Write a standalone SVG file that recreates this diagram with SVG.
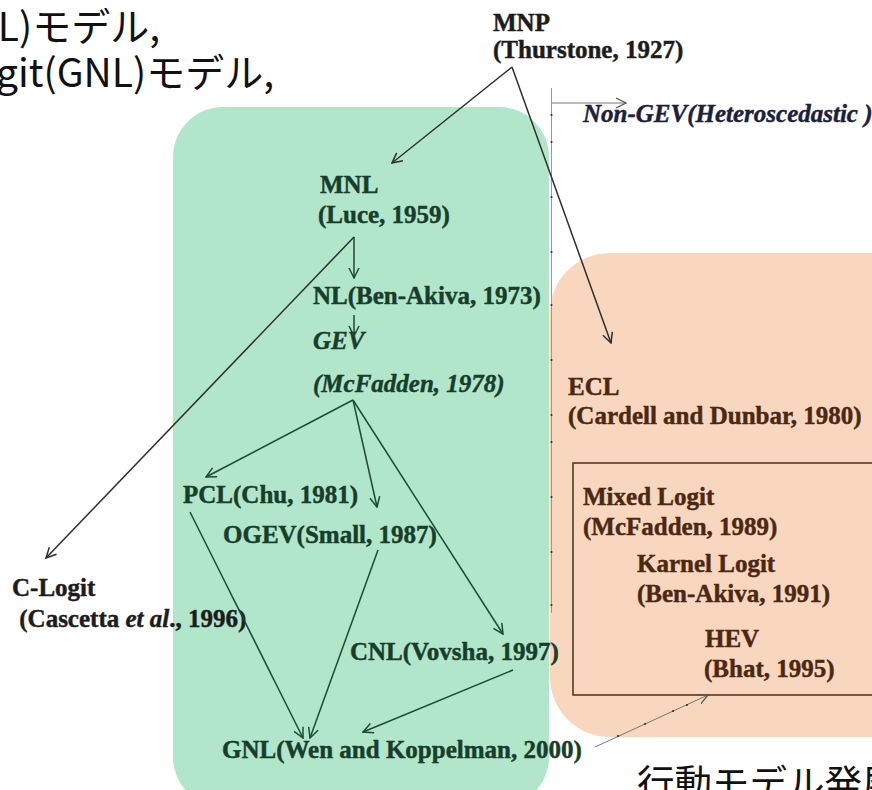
<svg xmlns="http://www.w3.org/2000/svg" width="872" height="790" viewBox="0 0 872 790">
<defs>
<style>
.jp{font-family:"Noto Sans CJK JP","Liberation Sans",sans-serif;font-size:39px;fill:#111}
.jb{font-size:37.5px}
.t{font-family:"Liberation Serif","Times New Roman",serif;font-size:25px;font-weight:bold;stroke-width:0.45px}
.g{fill:#173d2b;stroke:#173d2b}
.o{fill:#4a2812;stroke:#4a2812}
.k{fill:#1c1c1c;stroke:#1c1c1c}
.n{fill:#1b203c;stroke:#1b203c}
.i{font-style:italic}
.ln{fill:none;stroke-width:1.5}
.lg{stroke:#1f4a33}
.lk{stroke:#2e2e2e}
.dot{fill:#333}
</style>
<marker id="ag" viewBox="0 0 12 12" refX="11" refY="6" markerWidth="12" markerHeight="12" markerUnits="userSpaceOnUse" orient="auto"><path d="M1,1 L11,6 L1,11" fill="none" stroke="#1f4a33" stroke-width="1.5"/></marker>
<marker id="ak" viewBox="0 0 12 12" refX="11" refY="6" markerWidth="12" markerHeight="12" markerUnits="userSpaceOnUse" orient="auto"><path d="M1,1 L11,6 L1,11" fill="none" stroke="#2e2e2e" stroke-width="1.5"/></marker>
<marker id="ad" viewBox="0 0 12 12" refX="11" refY="6" markerWidth="12" markerHeight="12" markerUnits="userSpaceOnUse" orient="auto"><path d="M1,1 L11,6 L1,11" fill="none" stroke="#555" stroke-width="1.2"/></marker>
</defs>
<rect width="872" height="790" fill="#ffffff"/>
<g id="region-gev"><rect x="173" y="107" width="376" height="700" rx="50" fill="#b1e6ca"/></g>
<g id="region-nongev"><rect x="550" y="253" width="380" height="484" rx="60" fill="#f8d7be"/></g>
<g id="heading-top">
<text class="jp" x="160" y="41" text-anchor="end">L)モデル,</text>
<text class="jp" x="274" y="87" text-anchor="end">git(GNL)モデル,</text>
</g>
<g id="heading-bottom"><text class="jp jb" x="637" y="797">行動モデル発展</text></g>
<g id="axis">
<line x1="551.5" y1="88" x2="551.5" y2="613" stroke="#9a9a9a" stroke-width="1"/>
<circle class="dot" cx="551.5" cy="115" r="1.1"/><circle class="dot" cx="551.5" cy="142" r="1.1"/><circle class="dot" cx="551.5" cy="197" r="1.1"/><circle class="dot" cx="551.5" cy="252" r="1.1"/><circle class="dot" cx="551.5" cy="305" r="1.1"/><circle class="dot" cx="551.5" cy="360" r="1.1"/><circle class="dot" cx="551.5" cy="415" r="1.1"/><circle class="dot" cx="551.5" cy="442" r="1.1"/><circle class="dot" cx="551.5" cy="497" r="1.1"/><circle class="dot" cx="551.5" cy="552" r="1.1"/><circle class="dot" cx="551.5" cy="605" r="1.1"/>
<line x1="552" y1="103" x2="626" y2="103" stroke="#777" stroke-width="1" marker-end="url(#ad)"/>
</g>
<g id="label-nongev"><text class="t i n" x="583" y="122">Non-GEV(Heteroscedastic )</text></g>
<g id="mixed-box"><rect x="573" y="463" width="320" height="232" fill="none" stroke="#4a3020" stroke-width="1.5"/></g>
<g id="MNP"><text class="t k" x="493" y="31">MNP</text><text class="t k" x="493" y="58">(Thurstone, 1927)</text></g>
<g id="MNL"><text class="t g" x="320" y="193">MNL</text><text class="t g" x="318" y="223">(Luce, 1959)</text></g>
<g id="NL"><text class="t g" x="313" y="304">NL(Ben-Akiva, 1973)</text></g>
<g id="GEV"><text class="t g i" x="313" y="349">GEV</text><text class="t g i" x="313" y="392">(McFadden, 1978)</text></g>
<g id="PCL"><text class="t g" x="183" y="503">PCL(Chu, 1981)</text></g>
<g id="OGEV"><text class="t g" x="223" y="543">OGEV(Small, 1987)</text></g>
<g id="CNL"><text class="t g" x="350" y="660">CNL(Vovsha, 1997)</text></g>
<g id="GNL"><text class="t g" x="222" y="758">GNL(Wen and Koppelman, 2000)</text></g>
<g id="C-Logit"><text class="t k" x="12" y="596">C-Logit</text><text class="t k" x="13" y="627" xml:space="preserve"> (Cascetta <tspan font-style="italic">et al</tspan>., 1996)</text></g>
<g id="ECL"><text class="t o" x="568" y="395">ECL</text><text class="t o" x="568" y="424">(Cardell and Dunbar, 1980)</text></g>
<g id="MixedLogit"><text class="t o" x="583" y="505">Mixed Logit</text><text class="t o" x="583" y="535">(McFadden, 1989)</text></g>
<g id="KarnelLogit"><text class="t o" x="637" y="572">Karnel Logit</text><text class="t o" x="637" y="602">(Ben-Akiva, 1991)</text></g>
<g id="HEV"><text class="t o" x="705" y="647">HEV</text><text class="t o" x="704" y="677">(Bhat, 1995)</text></g>
<g id="connectors">
<line class="ln lk" x1="512" y1="67" x2="392" y2="163" marker-end="url(#ak)"/>
<line class="ln lk" x1="512" y1="67" x2="611" y2="343" marker-end="url(#ak)"/>
<line class="ln lg" x1="354" y1="237" x2="354" y2="278" marker-end="url(#ag)"/>
<line class="ln lk" x1="354" y1="237" x2="46" y2="558" marker-end="url(#ak)"/>
<line class="ln lg" x1="354" y1="315" x2="354" y2="336" marker-end="url(#ag)"/>
<line class="ln lg" x1="353" y1="400" x2="206" y2="477" marker-end="url(#ag)"/>
<line class="ln lg" x1="353" y1="400" x2="377" y2="507" marker-end="url(#ag)"/>
<line class="ln lg" x1="353" y1="400" x2="503" y2="634" marker-end="url(#ag)"/>
<line class="ln lg" x1="190" y1="512" x2="303" y2="738" marker-end="url(#ag)"/>
<line class="ln lg" x1="378" y1="550" x2="310" y2="738" marker-end="url(#ag)"/>
<line class="ln lg" x1="513" y1="670" x2="363" y2="732" marker-end="url(#ag)"/>
<line x1="595" y1="747" x2="708" y2="695" stroke="#777" stroke-width="1" marker-end="url(#ad)"/>
<circle class="dot" cx="618" cy="736" r="1.1"/><circle class="dot" cx="645" cy="724" r="1.1"/><circle class="dot" cx="673" cy="711" r="1.1"/><circle class="dot" cx="687" cy="705" r="1.1"/>
</g>
</svg>
